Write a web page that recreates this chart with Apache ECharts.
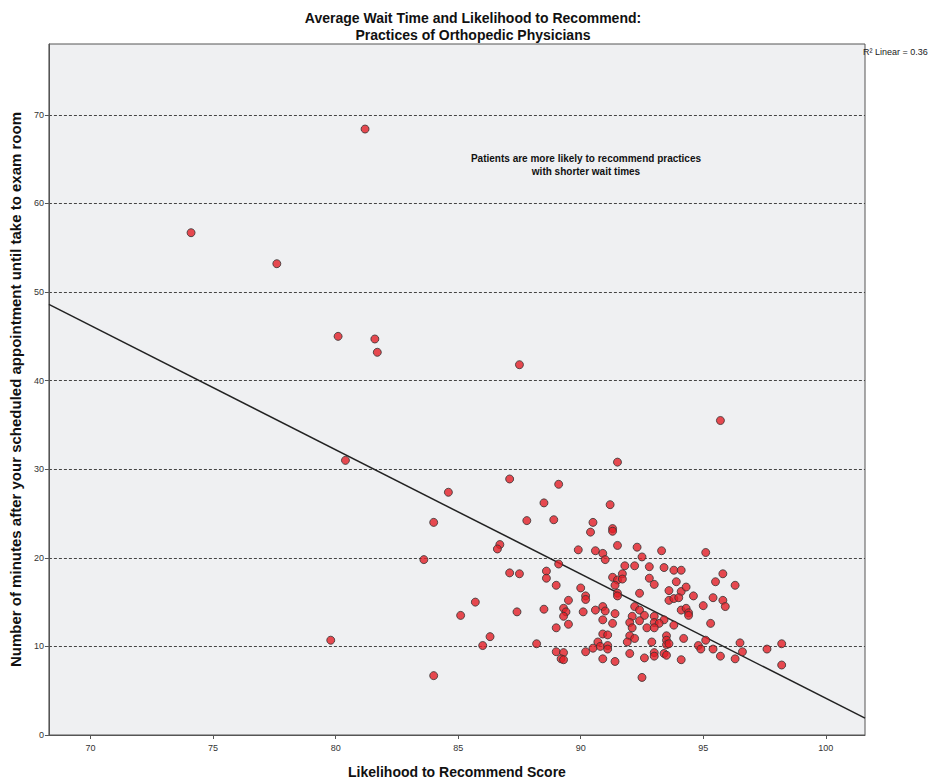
<!DOCTYPE html>
<html>
<head>
<meta charset="utf-8">
<title>Average Wait Time and Likelihood to Recommend</title>
<script src="https://cdn.jsdelivr.net/npm/echarts@6/dist/echarts.min.js"></script>
<style>
  html, body { margin: 0; padding: 0; background: #fff; }
  #chart { width: 936px; height: 784px; }
</style>
</head>
<body>
<div id="chart"></div>
<script>
// tick labels
const xTicks = [70, 75, 80, 85, 90, 95, 100];
const yTicks = [0, 10, 20, 30, 40, 50, 60, 70];

// [likelihood score, wait minutes] per practice
const practices = [
  [74.1, 56.7], [77.6, 53.2], [81.2, 68.4], [80.1, 45.0], [81.6, 44.7], [81.7, 43.2],
  [87.5, 41.8], [80.4, 31.0], [79.8, 10.7], [83.6, 19.8], [84.0, 24.0], [84.0, 6.7],
  [95.7, 35.5],
  [91.5, 30.8], [87.1, 28.9], [89.1, 28.3], [84.6, 27.4], [88.5, 26.2], [91.2, 26.0],
  [87.8, 24.2], [88.9, 24.3], [90.5, 24.0], [90.4, 22.9], [91.3, 23.3], [91.3, 23.0],
  [86.7, 21.5], [86.6, 21.0], [91.5, 21.4], [92.3, 21.2],
  [89.9, 20.9], [90.6, 20.8], [90.9, 20.5], [91.0, 19.8], [92.5, 20.1], [89.1, 19.3],
  [87.1, 18.3], [87.5, 18.2], [88.6, 18.5], [88.6, 17.7], [91.8, 19.1], [92.2, 19.1],
  [92.8, 19.0], [91.3, 17.8], [91.7, 18.2], [91.5, 17.5], [91.7, 17.6], [92.8, 17.7],
  [89.0, 16.9], [91.4, 16.9], [90.0, 16.6], [91.5, 16.0], [91.5, 15.7], [92.4, 16.0],
  [90.2, 15.7], [90.2, 15.3], [85.7, 15.0], [89.5, 15.2], [85.1, 13.5], [87.4, 13.9],
  [88.5, 14.2], [89.3, 14.3], [89.4, 13.9], [89.3, 13.4], [90.1, 13.9], [90.6, 14.1],
  [90.9, 14.5], [91.0, 14.0], [91.4, 13.7], [90.9, 13.0], [91.3, 12.6], [89.0, 12.1],
  [89.5, 12.5], [92.2, 14.5], [92.4, 14.1], [92.6, 13.5], [92.1, 13.4], [92.4, 12.9],
  [92.0, 12.7], [92.1, 12.1], [92.7, 12.1], [90.9, 11.4], [91.1, 11.3], [92.0, 11.2],
  [92.2, 10.9], [86.3, 11.1], [86.0, 10.1], [88.2, 10.3], [90.7, 10.5], [90.5, 9.8],
  [90.8, 10.0], [91.1, 10.1], [91.1, 9.7], [91.9, 10.5], [89.0, 9.4], [89.3, 9.3],
  [89.2, 8.6], [89.3, 8.5], [90.2, 9.4], [90.9, 8.6], [91.4, 8.3], [92.0, 9.2],
  [92.6, 8.7], [92.5, 6.5], [92.9, 10.5],
  [93.3, 20.8], [95.1, 20.6], [93.4, 18.9], [93.8, 18.6], [94.1, 18.6], [93.0, 17.0],
  [95.8, 18.2], [95.5, 17.3], [96.3, 16.9], [93.9, 17.3], [93.6, 16.3], [94.1, 16.2],
  [94.3, 16.7], [93.6, 15.2], [93.8, 15.4], [94.0, 15.5], [94.6, 15.7], [95.4, 15.5],
  [95.8, 15.2], [95.9, 14.5], [95.0, 14.6], [94.1, 14.1], [94.3, 14.3], [94.4, 13.8],
  [94.4, 13.5], [93.0, 13.4], [93.4, 13.0], [93.0, 12.7], [93.2, 12.6], [93.0, 12.1],
  [93.8, 12.4], [95.3, 12.6], [93.5, 11.2], [93.5, 10.7], [94.2, 10.9], [95.1, 10.7],
  [93.5, 10.2], [93.6, 10.3], [96.5, 10.4], [98.2, 10.3], [94.8, 10.1], [94.9, 9.7],
  [95.4, 9.7], [96.6, 9.4], [97.6, 9.7], [93.0, 9.3], [93.4, 9.2], [93.5, 9.0],
  [93.0, 8.9], [94.1, 8.5], [95.7, 8.9], [96.3, 8.6], [98.2, 7.9]
];

// linear fit, drawn across the whole x range
const fitLine = [[68.3, 48.6], [101.6, 1.9]];

const chart = echarts.init(document.getElementById('chart'), null, {renderer: 'svg'});
const font = '"Liberation Sans", Arial, sans-serif';

chart.setOption({
  animation: false,
  textStyle: {fontFamily: font},
  title: {
    text: 'Average Wait Time and Likelihood to Recommend:\nPractices of Orthopedic Physicians',
    left: 468,
    textAlign: 'center',
    top: 4,
    textStyle: {fontSize: 14, fontWeight: 'bold', color: '#111', lineHeight: 17, fontFamily: font}
  },
  grid: {
    left: 47, right: 71, top: 44, bottom: 44,
    show: true,
    backgroundColor: '#eff0f2',
    borderColor: '#555',
    borderWidth: 1
  },
  xAxis: {
    type: 'value',
    min: 68.3,
    max: 101.6,
    name: 'Likelihood to Recommend Score',
    nameLocation: 'middle',
    nameGap: 30,
    nameTextStyle: {fontSize: 14, fontWeight: 'bold', color: '#111'},
    axisLine: {show: true, lineStyle: {color: '#555'}},
    axisTick: {show: true, length: 4, customValues: xTicks, lineStyle: {color: '#555'}},
    axisLabel: {customValues: xTicks, fontSize: 9, color: '#333', margin: 8},
    splitLine: {show: false}
  },
  yAxis: {
    type: 'value',
    min: 0,
    max: 78,
    name: 'Number of minutes after your scheduled appointment until take to exam room',
    nameLocation: 'middle',
    nameGap: 22,
    nameTextStyle: {fontSize: 15, fontWeight: 'bold', color: '#111'},
    axisLine: {show: true, lineStyle: {color: '#555'}},
    axisTick: {show: true, length: 4, customValues: yTicks, lineStyle: {color: '#555'}},
    axisLabel: {customValues: yTicks, fontSize: 9, color: '#333', margin: 5},
    splitLine: {show: true, lineStyle: {color: '#444', type: [3, 2], width: 1}}
  },
  graphic: [
    {
      type: 'text',
      left: 863,
      top: 47,
      style: {text: 'R² Linear = 0.36', fontSize: 9, fill: '#222', fontFamily: font}
    },
    {
      type: 'text',
      x: 586,
      y: 152,
      style: {
        text: 'Patients are more likely to recommend practices\nwith shorter wait times',
        align: 'center',
        fontSize: 10,
        fontWeight: 'bold',
        lineHeight: 13,
        fill: '#111',
        fontFamily: font
      }
    }
  ],
  series: [
    {
      type: 'line',
      data: fitLine,
      showSymbol: false,
      symbol: 'none',
      lineStyle: {color: '#222', width: 1.5},
      silent: true,
      z: 2
    },
    {
      type: 'scatter',
      data: practices,
      symbolSize: 8,
      itemStyle: {color: '#e31e25', borderColor: '#333', borderWidth: 1},
      z: 3
    }
  ]
});
</script>
</body>
</html>
